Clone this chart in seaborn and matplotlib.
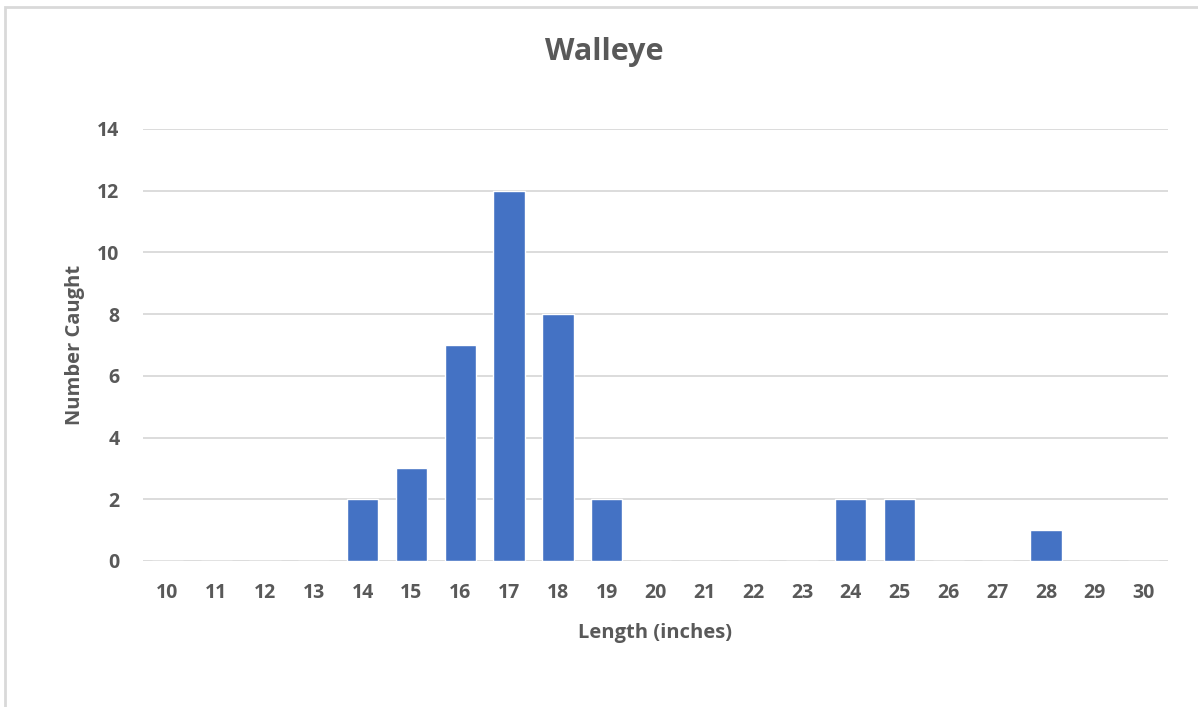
import matplotlib
matplotlib.use("Agg")
import matplotlib.pyplot as plt
import seaborn as sns
import pandas as pd
from matplotlib.patches import Rectangle

lengths = [str(v) for v in range(10, 31)]
counts = [0, 0, 0, 0, 2, 3, 7, 12, 8, 2, 0, 0, 0, 0, 2, 2, 0, 0, 1, 0, 0]
yticks = [0, 2, 4, 6, 8, 10, 12, 14]

sns.set_theme(style="white")
plt.rcParams['font.family'] = ['Open Sans', 'DejaVu Sans']

TXT = "#595959"
fig = plt.figure(figsize=(11.98, 7.07), dpi=100)
W, H = 1198, 707
ax = fig.add_axes([143 / W, 1 - 561 / H, (1168 - 143) / W, (561 - 129) / H])

df = pd.DataFrame({"Length": lengths, "Count": counts})
sns.barplot(data=df, x="Length", y="Count", order=lengths, color="#4472C4",
            saturation=1, width=0.64, ax=ax, zorder=3)

ax.set_ylim(0, 14)
ax.set_xlim(-0.5, len(lengths) - 0.5)
ax.set_yticks(yticks)
ax.set_yticklabels([str(t) for t in yticks])
ax.yaxis.grid(True, color="#D9D9D9", linewidth=1.3, zorder=0)
ax.set_axisbelow(True)
for s in ax.spines.values():
    s.set_visible(False)
ax.tick_params(axis="both", length=0, labelsize=14, labelcolor=TXT)
ax.tick_params(axis="x", pad=16)
ax.tick_params(axis="y", pad=17)
for lab in ax.get_xticklabels() + ax.get_yticklabels():
    lab.set_fontweight("bold")

ax.set_xlabel("Length (inches)", fontsize=14.5, fontweight="bold", color=TXT, labelpad=14)
ax.set_ylabel("Number Caught", fontsize=14.5, fontweight="bold", color=TXT, labelpad=9)
fig.text(604 / W, 1 - 52 / H, "Walleye", ha="center", va="center",
         fontsize=22, fontweight="bold", color=TXT)

fig.patches.append(Rectangle((5 / W, -0.1), 1.2, 1 - 7 / H + 0.1, transform=fig.transFigure,
                             fill=False, edgecolor="#D9D9D9", linewidth=2))

fig.savefig("out.png", dpi=100)
